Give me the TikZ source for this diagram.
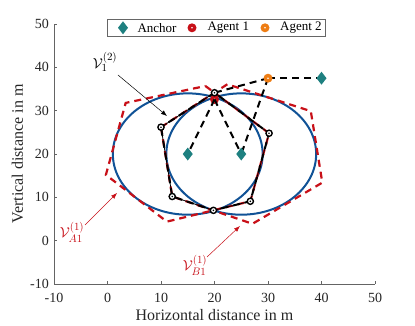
\documentclass[tikz,border=0pt]{standalone}
\usepackage{fontspec}
\setmainfont{Liberation Serif}
\usetikzlibrary{arrows.meta}
\definecolor{cblue}{RGB}{16,82,150}
\definecolor{cred}{RGB}{200,16,24}
\definecolor{cteal}{RGB}{30,128,128}
\definecolor{corange}{RGB}{238,125,20}
\definecolor{caxis}{RGB}{100,100,100}
\newcommand\anchormark[1]{\fill[cteal] (#1) ++(0,6.5pt) -- ++(5pt,-6.5pt) -- ++(-5pt,-6.5pt) -- ++(-5pt,6.5pt) -- cycle;}
\newcommand\agentmark[2]{\fill[#2] (#1) circle (4.5pt); \fill[white] (#1) circle (0.9pt);}
\newcommand\vertmark[1]{\draw[black, fill=white, line width=1.4pt] (#1) circle (3.1pt); \fill[black] (#1) circle (0.9pt);}
\begin{document}
\begin{tikzpicture}[x=1pt,y=1pt,
  ticklab/.style={font=\fontsize{14}{16}\selectfont, inner sep=1pt, text=black!85},
  axlab/.style={font=\fontsize{16}{18}\selectfont, inner sep=0pt, text=black!85},
  leg/.style={font=\fontsize{13}{15}\selectfont, anchor=west, inner sep=2pt},
  circ/.style={draw=cblue, line width=2pt},
  regpoly/.style={draw=cred, line width=2.2pt, dash pattern=on 7pt off 5pt},
  meas/.style={draw=black, line width=2pt, dash pattern=on 7pt off 5pt},
  polyline/.style={draw=black, line width=0.8pt},
  lab/.style={font=\fontsize{15}{17}\selectfont, inner sep=1pt},
  annot/.style={line width=0.5pt, -{Latex[length=6pt,width=4.5pt]}}]
\useasboundingbox (0,0) rectangle (415,326);
\begin{scope}[shift={(107.5pt,85.3pt)}, x=5.35pt, y=4.333pt]
  % axes
  \draw[caxis, line width=0.8pt] (-10,50) -- (-10,-10) -- (50,-10);
  \foreach \v in {-10,0,10,20,30,40,50} {
    \draw[caxis, line width=0.7pt] (\v,-10) -- ++(0,3pt);
    \draw[caxis, line width=0.7pt] (-10,\v) -- ++(3pt,0);
    \node[ticklab, anchor=north] at ([yshift=-7.5pt]\v,-10) {\v};
    \node[ticklab, anchor=east] at ([xshift=-4pt]-10,\v) {\v};
  }
  % points
  \coordinate (an1) at (15,20);
  \coordinate (an2) at (25,20);
  \coordinate (an3) at (40,37.5);
  \coordinate (ag1) at (20,32.6);
  \coordinate (ag2) at (30,37.5);
  % region A1
  \coordinate (a1) at (18.3,35.7);
  \coordinate (a2) at (30.2,24.8);
  \coordinate (a3) at (26.7,9.1);
  \coordinate (a4) at (11.1,4.4);
  \coordinate (a5) at (-0.3,15.2);
  \coordinate (a6) at (3.4,31.8);
  % region B1
  \coordinate (b1) at (10,26.2);
  \coordinate (b2) at (22.4,36.1);
  \coordinate (b3) at (38,29.9);
  \coordinate (b4) at (40.15,13.4);
  \coordinate (b5) at (27.1,3.9);
  \coordinate (b6) at (12.1,10.2);
  % intersection
  \coordinate (q1) at (10,26.2);
  \coordinate (q2) at (20,34.15);
  \coordinate (q3) at (30.2,24.8);
  \coordinate (q4) at (26.7,9.1);
  \coordinate (q5) at (19.8,7.0);
  \coordinate (q6) at (12.1,10.2);
  % circles
  \draw[circ] (an1) circle [radius=14];
  \draw[circ] (an2) circle [radius=14];
  % regions
  \draw[regpoly] (a1) -- (a2) -- (a3) -- (a4) -- (a5) -- (a6) -- cycle;
  \draw[regpoly] (b1) -- (b2) -- (b3) -- (b4) -- (b5) -- (b6) -- cycle;
  \agentmark{ag1}{cred}
  % measurements
  \draw[meas] (ag1) -- (an1);
  \draw[meas] (ag1) -- (an2);
  \draw[meas] (ag2) -- (an2);
  \draw[meas] (ag2) -- (an3);
  \draw[meas] (ag2) -- (q2);
  % intersection polygon
  \draw[polyline] (q1) -- (q2) -- (q3) -- (q4) -- (q5) -- (q6) -- cycle;
  \draw[meas, dash phase=3pt] (q1) -- (q2) -- (q3) -- (q4) -- (q5) -- (q6) -- cycle;
  \foreach \p in {q1,q2,q3,q4,q5,q6} { \vertmark{\p} }
  \agentmark{ag2}{corange}
  \anchormark{an1}
  \anchormark{an2}
  \anchormark{an3}
\end{scope}
% axis labels
\node[axlab, anchor=base] (xlab) at (214.5,5) {Horizontal distance in m};
\node[axlab, anchor=base, rotate=90] (ylab) at (23,172) {Vertical distance in m};
% annotations
\node[lab] (lv2) at (105,264) {$\mathcal{V}_1^{(2)}$};
\coordinate (lv2s) at (118,251);
\coordinate (lv2e) at (167,210);
\draw[annot, black] (lv2s) -- (lv2e);
\node[lab, text=cred] (lva) at (72,94) {$\mathcal{V}_{A1}^{(1)}$};
\coordinate (lvas) at (85,101);
\coordinate (lvae) at (117,133);
\draw[annot, cred] (lvas) -- (lvae);
\node[lab, text=cred] (lvb) at (195,61) {$\mathcal{V}_{B1}^{(1)}$};
\coordinate (lvbs) at (207,69);
\coordinate (lvbe) at (240,100);
\draw[annot, cred] (lvbs) -- (lvbe);
% legend
\draw[black!60, line width=0.7pt, fill=white] (107,289.3) rectangle (325,307);
\coordinate (lg1) at (123,298.2);
\anchormark{lg1}
\node[leg] (t1) at (135.3,298.2) {Anchor};
\coordinate (lg2) at (192,298.2);
\agentmark{lg2}{cred}
\node[leg] (t2) at (205.3,298.2) {Agent 1};
\coordinate (lg3) at (265,298.2);
\agentmark{lg3}{corange}
\node[leg] (t3) at (278,298.2) {Agent 2};
\end{tikzpicture}
\end{document}
